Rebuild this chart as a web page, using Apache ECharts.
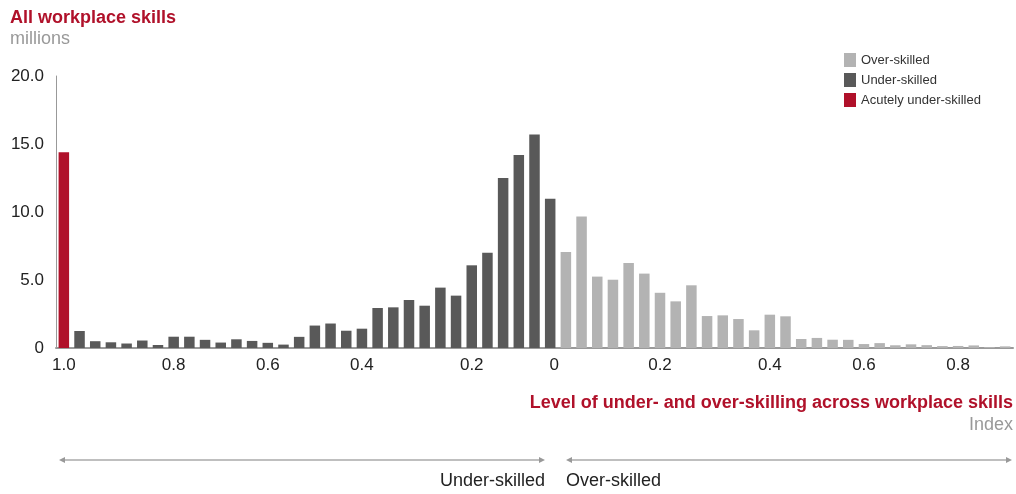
<!DOCTYPE html>
<html>
<head>
<meta charset="utf-8">
<script src="https://cdn.jsdelivr.net/npm/echarts@6/dist/echarts.min.js"></script>
<style>
html,body{margin:0;padding:0;background:#fff;}
#chart{width:1016px;height:494px;}
</style>
</head>
<body>
<div id="chart"></div>
<script>
// Values (millions), read left to right
const acutelyUnderSkilled = [14.4];
const underSkilled = [1.25, 0.5, 0.42, 0.33, 0.55, 0.22, 0.83, 0.83, 0.6, 0.4, 0.64, 0.52, 0.38, 0.25, 0.82,
  1.65, 1.8, 1.27, 1.42, 2.94, 2.99, 3.53, 3.11, 4.44, 3.85, 6.08, 7.0, 12.5, 14.2, 15.7, 10.98];
const overSkilled = [7.06, 9.66, 5.25, 5.02, 6.25, 5.47, 4.06, 3.43, 4.61, 2.35, 2.4, 2.13, 1.3, 2.45, 2.33,
  0.66, 0.74, 0.61, 0.6, 0.29, 0.36, 0.2, 0.27, 0.21, 0.14, 0.15, 0.19, 0.07, 0.12];

// Tick labels on the category axis
const tickIndex = [0, 7, 13, 19, 26, 31, 38, 45, 51, 57];
const tickText = ['1.0', '0.8', '0.6', '0.4', '0.2', '0', '0.2', '0.4', '0.6', '0.8'];

const nCat = acutelyUnderSkilled.length + underSkilled.length + overSkilled.length;
const categories = Array.from({length: nCat}, (_, i) => 'c' + i);

const acuteData = categories.map((_, i) => i < acutelyUnderSkilled.length ? acutelyUnderSkilled[i] : '-');
const underData = categories.map((_, i) => {
  const j = i - acutelyUnderSkilled.length;
  return (j >= 0 && j < underSkilled.length) ? underSkilled[j] : '-';
});
const overData = categories.map((_, i) => {
  const j = i - acutelyUnderSkilled.length - underSkilled.length;
  return (j >= 0 && j < overSkilled.length) ? overSkilled[j] : '-';
});

const RED = '#B0112A';
const DARK = '#595959';
const LIGHT = '#B3B3B3';
const FONT = '"Liberation Sans", Arial, sans-serif';

const chart = echarts.init(document.getElementById('chart'), null, {renderer: 'canvas'});
chart.setOption({
  animation: false,
  textStyle: {fontFamily: FONT},
  grid: {left: 56, right: 3, top: 76, bottom: 146, containLabel: false},
  legend: {
    orient: 'vertical',
    left: 844,
    top: 53,
    padding: 0,
    itemWidth: 12,
    itemHeight: 14,
    itemGap: 6,
    icon: 'rect',
    selectedMode: false,
    textStyle: {fontFamily: FONT, fontSize: 13, color: '#333'},
    data: ['Over-skilled', 'Under-skilled', 'Acutely under-skilled']
  },
  xAxis: {
    type: 'category',
    data: categories,
    axisLine: {lineStyle: {color: '#9a9a9a', width: 2}},
    axisTick: {show: false},
    axisLabel: {
      interval: (idx) => tickIndex.includes(idx),
      formatter: (val, idx) => {
        const k = tickIndex.indexOf(idx);
        if (k < 0) return '';
        return tickText[k] === '0' ? '{z|0}' : tickText[k];
      },
      rich: {z: {fontSize: 17, color: '#222', fontFamily: FONT, padding: [0, 0, 0, 8]}},
      fontSize: 17,
      color: '#222',
      fontFamily: FONT,
      margin: 9
    }
  },
  yAxis: {
    type: 'value',
    min: 0,
    max: 20,
    interval: 5,
    axisLine: {show: true, lineStyle: {color: '#999', width: 1}},
    axisTick: {show: false},
    splitLine: {show: false},
    axisLabel: {
      formatter: (v) => v === 0 ? '0' : v.toFixed(1),
      fontSize: 17,
      color: '#222',
      fontFamily: FONT,
      margin: 12
    }
  },
  series: [
    {name: 'Over-skilled', type: 'bar', stack: 'all', data: overData, barCategoryGap: '33%',
     itemStyle: {color: LIGHT}},
    {name: 'Under-skilled', type: 'bar', stack: 'all', data: underData, barCategoryGap: '33%',
     itemStyle: {color: DARK}},
    {name: 'Acutely under-skilled', type: 'bar', stack: 'all', data: acuteData, barCategoryGap: '33%',
     itemStyle: {color: RED}}
  ],
  graphic: [
    {type: 'text', style: {x: 10, y: 18, text: 'All workplace skills', font: 'bold 18px ' + FONT, fill: RED, verticalAlign: 'middle'}},
    {type: 'text', style: {x: 10, y: 39, text: 'millions', font: '18px ' + FONT, fill: '#999', verticalAlign: 'middle'}},
    {type: 'text', style: {x: 1013, y: 403, text: 'Level of under- and over-skilling across workplace skills', font: 'bold 18px ' + FONT, fill: RED, align: 'right', verticalAlign: 'middle'}},
    {type: 'text', style: {x: 1013, y: 425, text: 'Index', font: '18px ' + FONT, fill: '#999', align: 'right', verticalAlign: 'middle'}},
    {type: 'line', shape: {x1: 62, y1: 460, x2: 541, y2: 460}, style: {stroke: '#aaa', lineWidth: 1.5}},
    {type: 'polygon', shape: {points: [[59, 460], [65, 457], [65, 463]]}, style: {fill: '#999'}},
    {type: 'polygon', shape: {points: [[545, 460], [539, 457], [539, 463]]}, style: {fill: '#999'}},
    {type: 'line', shape: {x1: 569, y1: 460, x2: 1009, y2: 460}, style: {stroke: '#aaa', lineWidth: 1.5}},
    {type: 'polygon', shape: {points: [[566, 460], [572, 457], [572, 463]]}, style: {fill: '#999'}},
    {type: 'polygon', shape: {points: [[1012, 460], [1006, 457], [1006, 463]]}, style: {fill: '#999'}},
    {type: 'text', style: {x: 545, y: 481, text: 'Under-skilled', font: '18px ' + FONT, fill: '#222', align: 'right', verticalAlign: 'middle'}},
    {type: 'text', style: {x: 566, y: 481, text: 'Over-skilled', font: '18px ' + FONT, fill: '#222', align: 'left', verticalAlign: 'middle'}}
  ]
});
</script>
</body>
</html>
